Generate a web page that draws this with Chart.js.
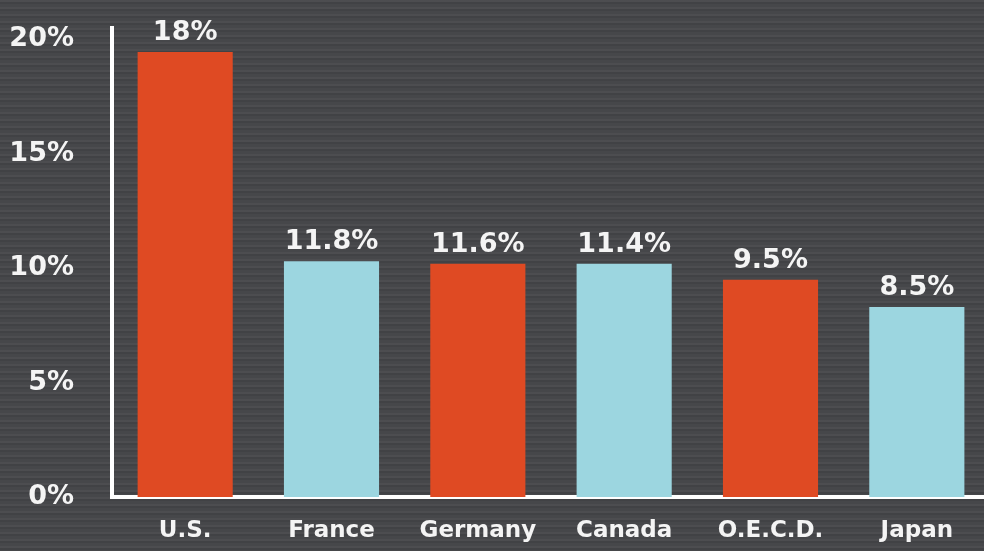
<!DOCTYPE html>
<html>
<head>
<meta charset="utf-8">
<script src="https://cdn.jsdelivr.net/npm/chart.js@4/dist/chart.umd.min.js"></script>
<style>
  html, body { margin: 0; padding: 0; }
  body {
    width: 984px; height: 551px; overflow: hidden;
    background-color: #46474a;
    background-image: repeating-linear-gradient(180deg,
      rgba(255,255,255,0.035) 0px, rgba(255,255,255,0.035) 2px,
      rgba(0,0,0,0.07) 2px, rgba(0,0,0,0.07) 4px,
      rgba(255,255,255,0.0) 4px, rgba(255,255,255,0.0) 7px);
  }
  #wrap { position: relative; width: 990px; height: 551px; }
</style>
</head>
<body>
<div id="wrap"><canvas id="chart"></canvas></div>
<script>
// categories and values (bar heights as drawn), with the printed labels
var countries = ["U.S.", "France", "Germany", "Canada", "O.E.C.D.", "Japan"];
var heights = [19.45, 10.3, 10.2, 10.2, 9.5, 8.3];
var valueLabels = ["18%", "11.8%", "11.6%", "11.4%", "9.5%", "8.5%"];
var tickValues = [0, 5, 10, 15, 20];

var orange = "#df4a23";
var blue = "#9cd6e0";
var barColors = countries.map(function (c, i) { return i % 2 === 0 ? orange : blue; });

var font = "'DejaVu Sans', Arial, sans-serif";

var barLabels = {
  id: 'barLabels',
  afterDatasetsDraw: function (chart) {
    var ctx = chart.ctx;
    var meta = chart.getDatasetMeta(0);
    ctx.save();
    ctx.fillStyle = "#f4f4f4";
    ctx.font = "bold 27px " + font;
    ctx.textAlign = "center";
    ctx.textBaseline = "alphabetic";
    meta.data.forEach(function (bar, i) {
      ctx.fillText(valueLabels[i], bar.x, bar.y - 12);
    });
    ctx.restore();
  }
};

var ctx = document.getElementById("chart").getContext('2d');
var myChart = new Chart(ctx, {
  type: 'bar',
  data: {
    labels: countries,
    datasets: [{
      data: heights,
      backgroundColor: barColors,
      borderWidth: 0,
      categoryPercentage: 1,
      barPercentage: 0.65
    }]
  },
  options: {
    responsive: true,
    maintainAspectRatio: false,
    animation: false,
    layout: { padding: { top: 28, right: 0, bottom: 0, left: 0 } },
    plugins: {
      legend: { display: false },
      tooltip: { enabled: false }
    },
    scales: {
      x: {
        grid: { display: false },
        border: { color: "#ffffff", width: 4 },
        ticks: {
          color: "#f4f4f4",
          font: { family: font, size: 23, weight: 'bold' },
          padding: 12,
          maxRotation: 0
        },
        afterFit: function (scale) { scale.height = 54; }
      },
      y: {
        min: 0,
        max: 20.5,
        grid: { display: false },
        border: { color: "#ffffff", width: 4 },
        afterBuildTicks: function (scale) {
          scale.ticks = tickValues.map(function (v) { return { value: v }; });
        },
        ticks: {
          color: "#f4f4f4",
          font: { family: font, size: 27, weight: 'bold' },
          padding: 30,
          callback: function (v) { return v + "%"; }
        },
        afterFit: function (scale) {
          scale.width = 112;
          scale.paddingTop = 0;
          scale.paddingBottom = 0;
        }
      }
    }
  },
  plugins: [barLabels]
});
</script>
</body>
</html>
